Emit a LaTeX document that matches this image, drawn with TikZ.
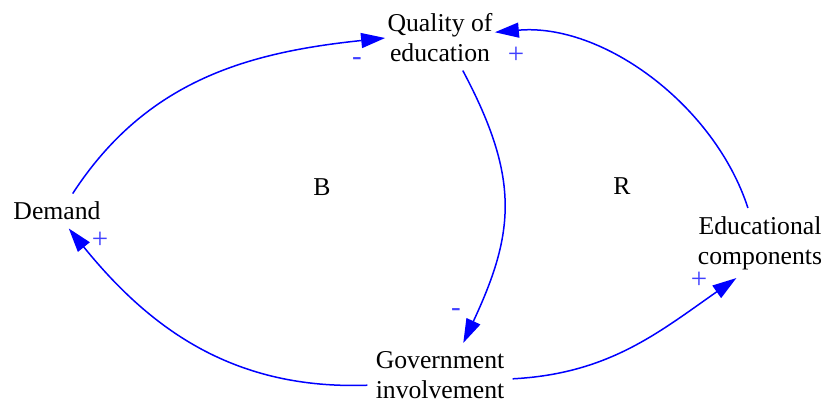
\documentclass[tikz,border=0pt]{standalone}
\usepackage{fontspec}
\setmainfont{Liberation Serif}
\usetikzlibrary{arrows.meta}
\newcommand{\loopFont}[0]{\fontsize{12.85}{15}\selectfont}
\newcommand{\signFont}[0]{\fontsize{14.5}{16}\selectfont}
\definecolor{linkblue}{RGB}{0,0,255}
\definecolor{signblue}{RGB}{64,64,255}

\begin{document}
\begin{tikzpicture}[x=0.5pt, y=0.5pt]
  \tikzset{every node/.style={align=center,font=\loopFont,inner sep=4pt}}
  \tikzset{link/.style={draw=linkblue,line width=0.75pt,-{Triangle[length=12pt,width=7.5pt]}}}
  \tikzset{sign/.style={text=signblue,font=\signFont,inner sep=0pt}}
  \useasboundingbox (0,0) rectangle (825,-404);
  \node[inner xsep=1pt](Q-1) at (440,-38) {Quality of\\education};
  \node(D-1) at (57,-211) {Demand};
  \node(E-1) at (760,-243) {Educational\\components};
  \node(G-1) at (440,-375) {Government\\involvement};
  \node(L-B) at (322,-187) {B};
  \node(L-R) at (622,-186) {R};
  \node[sign](S-1) at (357,-62) {-};
  \node[sign](S-2) at (516,-55) {+};
  \node[sign](S-3) at (100,-240) {+};
  \node[sign](S-4) at (456,-313) {-};
  \node[sign](S-5) at (699,-280) {+};
  \draw[link] (D-1.48) to[out=57,in=186] (Q-1.west);
  \draw[link] (Q-1.-55) to[out=-62,in=65,looseness=1.15] (G-1.54);
  \draw[link] (G-1.188) to[out=182,in=-51] (D-1.-56);
  \draw[link] (G-1.-3) to[out=3,in=-145] (E-1.-124);
  \draw[link] (E-1.109) to[out=108,in=5,looseness=0.9] (Q-1.6);
\end{tikzpicture}
\end{document}
